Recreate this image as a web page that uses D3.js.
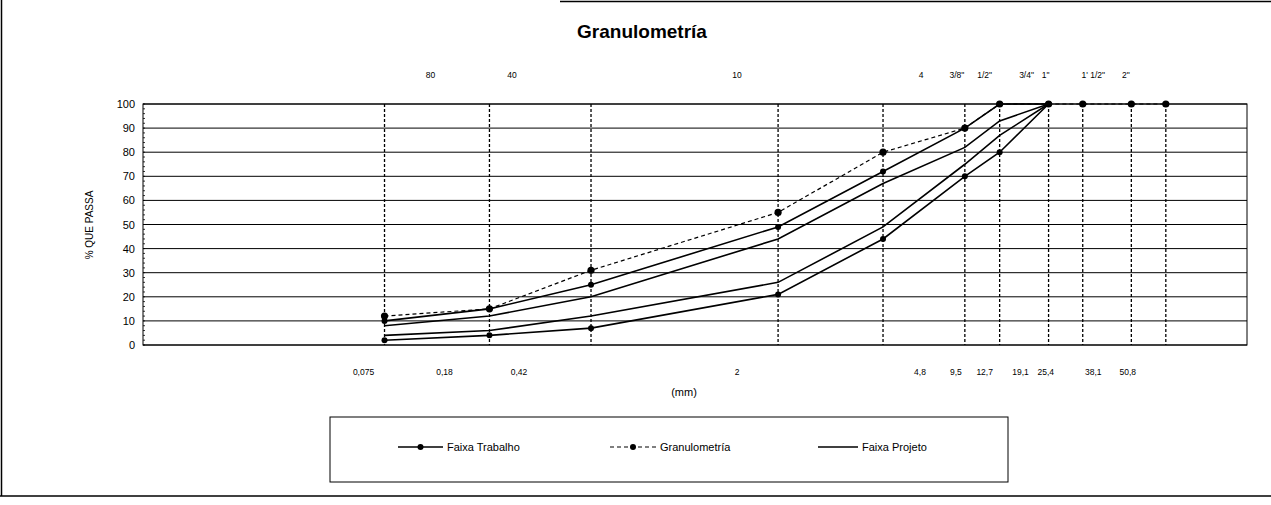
<!DOCTYPE html>
<html>
<head>
<meta charset="utf-8">
<script src="https://cdn.jsdelivr.net/npm/d3@7"></script>
<style>
  body { margin: 0; background: #fff; }
  svg { display: block; }
  text { font-family: "Liberation Sans", Arial, sans-serif; fill: #000; }
</style>
</head>
<body>
<svg id="chart" width="1271" height="505"></svg>
<script>
// Sieve openings (mm) and their labels
const sieveMm = [0.075, 0.18, 0.42, 2, 4.8, 9.5, 12.7, 19.1, 25.4, 38.1, 50.8];
const sieveMmLabels = ["0,075", "0,18", "0,42", "2", "4,8", "9,5", "12,7", "19,1", "25,4", "38,1", "50,8"];
const sieveNumberLabels = ["", "80", "40", "10", "4", "3/8\"", "1/2\"", "3/4\"", "1\"", "1' 1/2\"", "2\""];
const yTicks = [0, 10, 20, 30, 40, 50, 60, 70, 80, 90, 100];

// % passing, one value per sieve (from 0,075 upwards)
const trabalhoUpper = [10, 15, 25, 49, 72, 90, 100, 100];
const trabalhoLower = [2, 4, 7, 21, 44, 70, 80, 100];
const projetoUpper = [8, 12, 20, 44, 67, 82, 93, 100];
const projetoLower = [4, 6, 12, 26, 49, 75, 87, 100];
const granulometria = [12, 15, 31, 55, 80, 90, 100, 100, 100, 100, 100];

// Hand-placed label offsets (px) relative to each sieve line
const bottomLabelShift = [-21, -45, -72, -41, 37, -9, -15, -28, -37, -38, -38];
const topLabelShift = [0, -59, -79, -41, 38, -8, -15, -22, -37, -38, -40];

const svg = d3.select("#chart");
const plot = { left: 143, right: 1247, top: 104, bottom: 345 };

const x = d3.scaleLog().domain([0.01, 100]).range([plot.left, plot.right]);
const y = d3.scaleLinear().domain([0, 100]).range([plot.bottom, plot.top]);

// outer frame
const frame = svg.append("g").attr("stroke", "#000").attr("stroke-width", 1.5).attr("fill", "none");
frame.append("line").attr("x1", 1.5).attr("x2", 1.5).attr("y1", 0).attr("y2", 496);
frame.append("line").attr("x1", 0).attr("x2", 1271).attr("y1", 496).attr("y2", 496);
frame.append("line").attr("x1", 560).attr("x2", 1271).attr("y1", 1.5).attr("y2", 1.5);

// title
svg.append("text")
  .attr("x", 642).attr("y", 38)
  .attr("text-anchor", "middle")
  .style("font-size", "19px").style("font-weight", "bold")
  .text("Granulometría");

// horizontal grid
svg.append("g")
  .selectAll("line")
  .data(yTicks)
  .join("line")
  .attr("x1", plot.left).attr("x2", plot.right)
  .attr("y1", d => y(d)).attr("y2", d => y(d))
  .attr("stroke", "#000").attr("stroke-width", 1);

// sieve lines
svg.append("g")
  .selectAll("line")
  .data(sieveMm)
  .join("line")
  .attr("x1", d => x(d)).attr("x2", d => x(d))
  .attr("y1", plot.top).attr("y2", plot.bottom)
  .attr("stroke", "#000").attr("stroke-width", 1.3)
  .attr("stroke-dasharray", "3,2");

// plot border
svg.append("rect")
  .attr("x", plot.left).attr("y", plot.top)
  .attr("width", plot.right - plot.left).attr("height", plot.bottom - plot.top)
  .attr("fill", "none").attr("stroke", "#000").attr("stroke-width", 1);

// y axis
const yAxis = svg.append("g")
  .attr("transform", `translate(${plot.left},0)`)
  .call(d3.axisLeft(y).tickValues(yTicks).tickSize(0).tickPadding(8));
yAxis.select(".domain").remove();
yAxis.selectAll("text")
  .style("font-size", "11px")
  .style("font-family", "\"Liberation Sans\", Arial, sans-serif");

// minor ticks on the value axis
svg.append("g")
  .selectAll("line")
  .data(d3.range(0, 101, 2))
  .join("line")
  .attr("x1", plot.left).attr("x2", plot.left + 2)
  .attr("y1", d => y(d)).attr("y2", d => y(d))
  .attr("stroke", "#000").attr("stroke-width", 0.8);

svg.append("text")
  .attr("transform", "translate(93,225) rotate(-90)")
  .attr("text-anchor", "middle")
  .style("font-size", "10px")
  .text("% QUE PASSA");

// sieve size labels (mm) below the plot
svg.append("g")
  .selectAll("text")
  .data(sieveMm)
  .join("text")
  .attr("x", (d, i) => x(d) + bottomLabelShift[i])
  .attr("y", 375)
  .attr("text-anchor", "middle")
  .style("font-size", "8.5px")
  .text((d, i) => sieveMmLabels[i]);

// sieve numbers above the plot
svg.append("g")
  .selectAll("text")
  .data(sieveMm)
  .join("text")
  .attr("x", (d, i) => x(d) + topLabelShift[i])
  .attr("y", 78)
  .attr("text-anchor", "middle")
  .style("font-size", "8.5px")
  .text((d, i) => sieveNumberLabels[i]);

svg.append("text")
  .attr("x", 684).attr("y", 396)
  .attr("text-anchor", "middle")
  .style("font-size", "11px")
  .text("(mm)");

// curves
const line = d3.line().x(d => x(d[0])).y(d => y(d[1]));
const pairs = vals => vals.map((v, i) => [sieveMm[i], v]);

function drawCurve(vals, dashed, marker, r) {
  const pts = pairs(vals);
  svg.append("path")
    .datum(pts)
    .attr("d", line)
    .attr("fill", "none")
    .attr("stroke", "#000")
    .attr("stroke-width", dashed ? 1.2 : 1.6)
    .attr("stroke-dasharray", dashed ? "4,3" : null);
  if (marker) {
    svg.append("g")
      .selectAll("circle")
      .data(pts)
      .join("circle")
      .attr("cx", d => x(d[0])).attr("cy", d => y(d[1]))
      .attr("r", r).attr("fill", "#000");
  }
}

drawCurve(projetoUpper, false, false);
drawCurve(projetoLower, false, false);
drawCurve(trabalhoUpper, false, true, 3);
drawCurve(trabalhoLower, false, true, 3);
drawCurve(granulometria, true, true, 3.6);

// legend
const legend = svg.append("g");
legend.append("rect")
  .attr("x", 330).attr("y", 417).attr("width", 678).attr("height", 65)
  .attr("fill", "none").attr("stroke", "#000").attr("stroke-width", 1);

const legendItems = [
  { name: "Faixa Trabalho", x0: 398, x1: 443, dashed: false, marker: true },
  { name: "Granulometría", x0: 610, x1: 656, dashed: true, marker: true },
  { name: "Faixa Projeto", x0: 818, x1: 858, dashed: false, marker: false }
];
const ly = 447;
legendItems.forEach(it => {
  legend.append("line")
    .attr("x1", it.x0).attr("x2", it.x1).attr("y1", ly).attr("y2", ly)
    .attr("stroke", "#000").attr("stroke-width", it.dashed ? 1.2 : 1.6)
    .attr("stroke-dasharray", it.dashed ? "4,3" : null);
  if (it.marker) {
    legend.append("circle")
      .attr("cx", (it.x0 + it.x1) / 2).attr("cy", ly).attr("r", 3).attr("fill", "#000");
  }
  legend.append("text")
    .attr("x", it.x1 + 4).attr("y", ly + 4)
    .style("font-size", "11px")
    .text(it.name);
});
</script>
</body>
</html>
